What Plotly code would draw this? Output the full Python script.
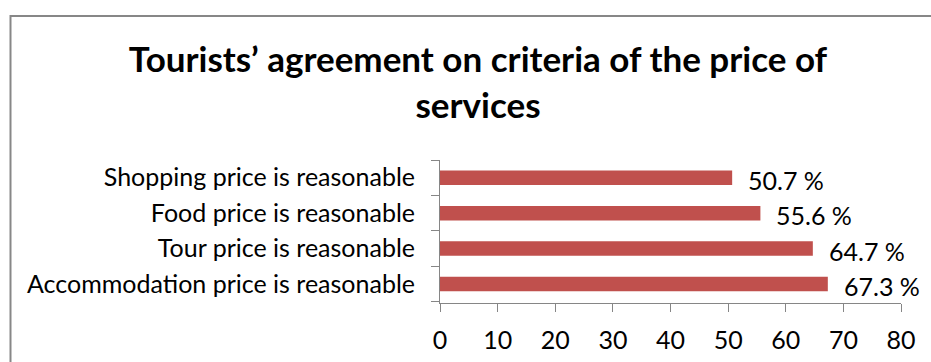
import plotly.graph_objects as go

# Survey results: share of tourists agreeing with each price criterion (%)
criteria = [
    "Accommodation price is reasonable",
    "Tour price is reasonable",
    "Food price is reasonable",
    "Shopping price is reasonable",
]
agree_pct = [67.3, 64.7, 55.6, 50.7]
x_ticks = [0, 10, 20, 30, 40, 50, 60, 70, 80]

title_text = "Tourists’ agreement on criteria of the price of<br>services"

FONT = "Lato"
BAR_COLOR = "#C0504D"
AXIS_COLOR = "#868686"

W, H = 931, 362
L, R, T, B = 440, 30, 160, 59
pw, ph = W - L - R, H - T - B


def px_to_paper_x(px):
    return (px - L) / pw


def px_to_paper_y(py):
    return (H - B - py) / ph


fig = go.Figure(
    go.Bar(
        x=agree_pct,
        y=criteria,
        orientation="h",
        marker=dict(color=BAR_COLOR, line=dict(width=0)),
        width=0.41,
        hoverinfo="skip",
    )
)

# value labels to the right of each bar
for v, c in zip(agree_pct, criteria):
    fig.add_annotation(
        x=v, y=c, xref="x", yref="y",
        text=f"{v} %", showarrow=False,
        xanchor="left", yanchor="middle", xshift=14, yshift=-2,
        font=dict(family=FONT, size=25, color="#000000"),
    )

# chart frame
fig.add_shape(
    type="rect", xref="paper", yref="paper",
    x0=px_to_paper_x(10.5), x1=px_to_paper_x(960),
    y0=px_to_paper_y(380), y1=px_to_paper_y(16),
    line=dict(color="#878787", width=2), fillcolor="rgba(0,0,0,0)",
    layer="below",
)

fig.update_layout(
    width=W, height=H,
    margin=dict(l=L, r=R, t=T, b=B),
    paper_bgcolor="white",
    plot_bgcolor="white",
    showlegend=False,
    title=dict(
        text=title_text,
        x=478 / W, xanchor="center", xref="container",
        y=1 - 72 / H, yanchor="top", yref="container",
        font=dict(family=FONT, size=35, color="#000000", weight="bold"),
    ),
    xaxis=dict(
        range=[0, 80], tickvals=x_ticks, ticktext=[str(t) for t in x_ticks],
        showgrid=False, zeroline=False, automargin=False,
        showline=True, linecolor=AXIS_COLOR, linewidth=1,
        ticks="outside", ticklen=8, tickcolor=AXIS_COLOR, tickwidth=1,
        tickfont=dict(family=FONT, size=25, color="#000000"),
        ticklabelstandoff=7,
        fixedrange=True,
    ),
    yaxis=dict(
        categoryorder="array", categoryarray=criteria,
        showgrid=False, zeroline=False, automargin=False,
        showline=True, linecolor=AXIS_COLOR, linewidth=1,
        ticks="outside", ticklen=8, tickcolor=AXIS_COLOR, tickwidth=1,
        tickson="boundaries",
        tickfont=dict(family=FONT, size=25, color="#000000"),
        ticklabelstandoff=19,
        fixedrange=True,
    ),
)

fig.write_html("out.html")
